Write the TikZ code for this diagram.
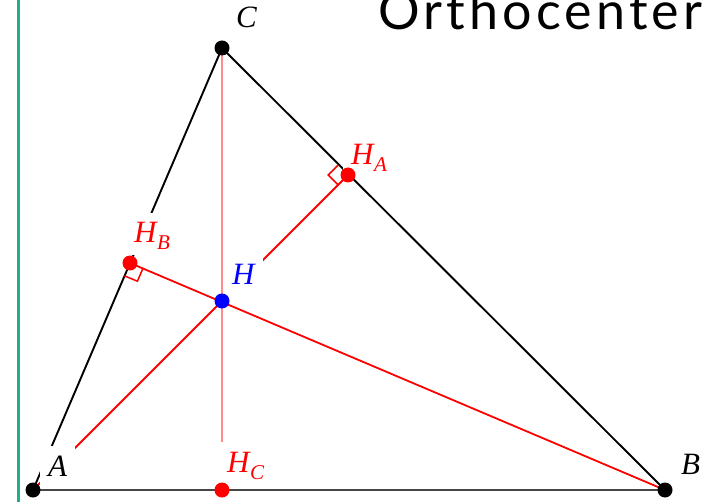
\documentclass[tikz,border=0pt]{standalone}
\usepackage{fontspec}
\usepackage{xcolor}
\usepackage{tikz}
\usetikzlibrary{calc}
\newfontfamily\ptfont{Liberation Serif}
\newfontfamily\ttlfont[LetterSpace=8]{Lato}
\definecolor{framegreen}{RGB}{30,176,136}
\definecolor{altred}{RGB}{255,0,0}
\definecolor{altpink}{RGB}{255,140,140}
\definecolor{orthblue}{RGB}{0,0,255}
\definecolor{basegray}{RGB}{70,70,70}
\newcommand{\footlbl}[1]{H\kern0.5pt\raisebox{-7pt}{\fontsize{21pt}{21pt}\selectfont #1}}
\tikzset{
  ptlbl/.style={font=\ptfont\itshape\fontsize{31pt}{32pt}\selectfont, fill=white, inner xsep=8pt, inner ysep=6pt, text height=24pt, text depth=6pt, anchor=base west},
  altline/.style={altred, line width=1.8pt}
}

\begin{document}
\begin{tikzpicture}[x=1pt, y=-1pt]
\useasboundingbox (0,0) rectangle (708,502);
\fill[white] (0,0) rectangle (708,502);
\coordinate (A) at (33,490);
\coordinate (B) at (665,490);
\coordinate (C) at (222,48);
\coordinate (HA) at (348,175);
\coordinate (HB) at (130,263);
\coordinate (HC) at (222,490);
\coordinate (H) at (222,301);
\coordinate (ftop) at (18,0);
\coordinate (fbot) at (18,502);
\draw[framegreen, line width=3pt] (ftop)--(fbot);
% triangle
\draw[black, line width=1.9pt] (A)--(C)--(B);
\draw[basegray, line width=2.5pt] (A)--(B);
% altitudes
\draw[altpink, line width=2pt] (C)--(HC);
\draw[altline] (A)--(HA);
\draw[altline] (B)--(HB);
% right angles
\coordinate (ha1) at ($(HA)!14pt!(C)$);
\coordinate (ha2) at ($(HA)!14pt!(H)$);
\draw[altred, line width=1.5pt] (ha1)--($(ha1)+(ha2)-(HA)$)--(ha2);
\coordinate (hb1) at ($(HB)!14pt!(A)$);
\coordinate (hb2) at ($(HB)!14pt!(H)$);
\draw[altred, line width=1.5pt] (hb1)--($(hb1)+(hb2)-(HB)$)--(hb2);
% labels
\node[ptlbl] (labA) at (40,476) {A};
\node[ptlbl] (labB) at (673,474) {B};
\node[ptlbl] (labC) at (228,28) {C};
\node[ptlbl, text=altred] (labHA) at (343,165) {\footlbl{A}};
\node[ptlbl, text=altred] (labHB) at (126,243) {\footlbl{B}};
\node[ptlbl, text=altred] (labHC) at (219,472) {\footlbl{C}};
\node[ptlbl, text=orthblue] (labH) at (224,284) {H};
% points
\fill[black] (A) circle (7.5);
\fill[black] (B) circle (7.5);
\fill[black] (C) circle (7.5);
\fill[altred] (HA) circle (7.5);
\fill[altred] (HB) circle (7.5);
\fill[altred] (HC) circle (7.5);
\fill[orthblue] (H) circle (7.5);
\node[font=\ttlfont\fontsize{52pt}{52pt}\selectfont, anchor=base west, inner sep=0pt] (ttl) at (378,30) {Orthocenter};
\end{tikzpicture}
\end{document}
